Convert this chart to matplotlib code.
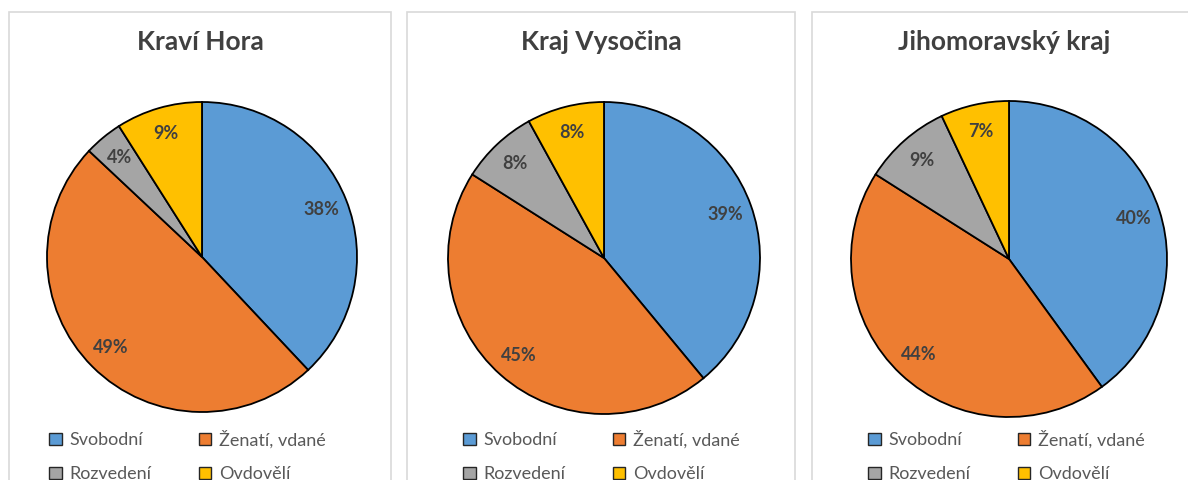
import matplotlib.pyplot as plt
from matplotlib.patches import Rectangle

plt.rcParams['font.family'] = ['Lato', 'DejaVu Sans']

W, H = 1188, 480

categories = ['Svobodní', 'Ženatí, vdané', 'Rozvedení', 'Ovdovělí']
colors = ['#5B9BD5', '#ED7D31', '#A5A5A5', '#FFC000']

titles = ['Kraví Hora', 'Kraj Vysočina', 'Jihomoravský kraj']
kravi_hora = [38, 49, 4, 9]
vysocina = [39, 45, 8, 8]
jihomoravsky = [40, 44, 9, 7]
all_values = [kravi_hora, vysocina, jihomoravsky]

# layout in pixels (left, right) of the panel boxes, pie centre and radius
boxes = [(9, 391), (407, 795), (812, 1196)]
pie_centres = [(202, 257), (604, 258), (1009, 259)]
radii = [155, 156, 158]
legend_x = [49, 463, 868]

text_col = '#404040'

fig = plt.figure(figsize=(W / 100, H / 100), dpi=100)


def px(x, y):
    return x / W, 1 - y / H


# legend fills by column, so reorder to read row by row
order = [0, 2, 1, 3]

for i in range(3):
    l, r = boxes[i]
    fig.patches.append(Rectangle(px(l, 500), (r - l) / W, (500 - 12) / H,
                                 transform=fig.transFigure, facecolor='white',
                                 edgecolor='#D9D9D9', linewidth=1.2, zorder=-1))

    cx, cy = pie_centres[i]
    rad = radii[i]
    ax = fig.add_axes([(cx - rad) / W, (H - cy - rad) / H, 2 * rad / W, 2 * rad / H])
    wedges, texts, autotexts = ax.pie(
        all_values[i], colors=colors, startangle=90, counterclock=False,
        autopct=lambda p: '%d%%' % round(p), pctdistance=0.83,
        wedgeprops=dict(edgecolor='black', linewidth=1.3),
        textprops=dict(color=text_col, fontsize=13, fontweight='bold'))
    for w in wedges:
        w.set_clip_on(False)
    ax.set_xlim(-1, 1)
    ax.set_ylim(-1, 1)

    fig.text((l + r) / 2 / W, 1 - 42 / H, titles[i], ha='center', va='center',
             fontsize=19, fontweight='bold', color=text_col)

    fig.legend([wedges[k] for k in order], [categories[k] for k in order],
               loc='upper left',
               bbox_to_anchor=px(legend_x[i], 430), ncol=2, frameon=False,
               borderpad=0, borderaxespad=0, handlelength=0.7, handleheight=0.7,
               handletextpad=0.45, columnspacing=2.6, labelspacing=1.0,
               prop=dict(size=13), labelcolor='#595959')
    leg = fig.legends[-1]
    for h in leg.legend_handles:
        h.set_edgecolor('#262626')
        h.set_linewidth(1.0)

fig.savefig('out.png', dpi=100)
